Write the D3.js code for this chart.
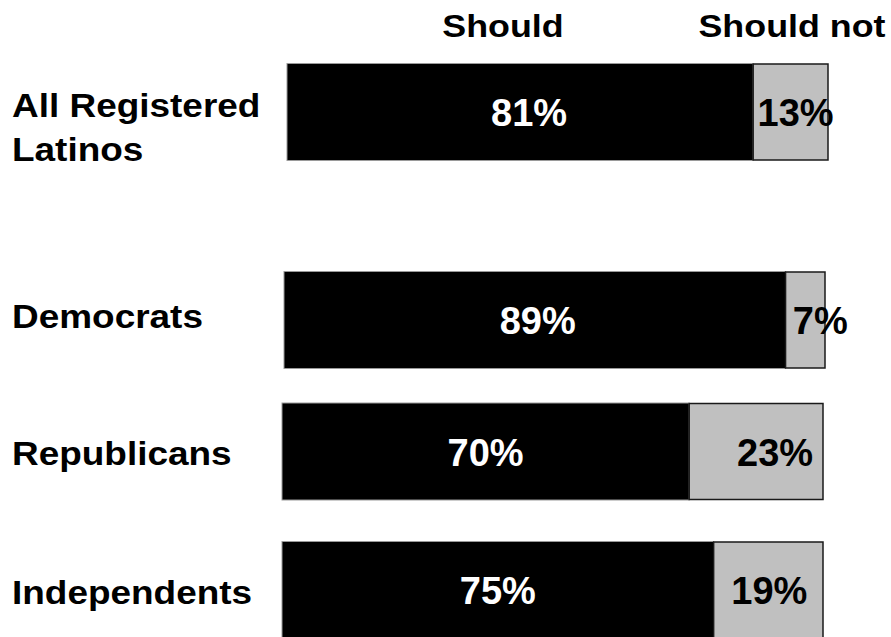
<!DOCTYPE html>
<html>
<head>
<meta charset="utf-8">
<script src="https://cdn.jsdelivr.net/npm/d3@7"></script>
<style>
  html, body { margin: 0; padding: 0; background: #fff; }
  svg { display: block; font-family: "Liberation Sans", Arial, Helvetica, sans-serif; font-weight: bold; }
</style>
</head>
<body>
<svg id="chart" width="891" height="637"></svg>
<script>
// ---- data ----
const categories = ["All Registered Latinos", "Democrats", "Republicans", "Independents"];
const categoryLines = [["All Registered", "Latinos"], ["Democrats"], ["Republicans"], ["Independents"]];
const seriesNames = ["Should", "Should not"];
const shouldValues = [81, 89, 70, 75];
const shouldNotValues = [13, 7, 23, 19];

// ---- layout ----
const svg = d3.select("#chart");
const barH = 97;
const barW = 541;
const rowCenters = [112, 320, 451.5, 590];
const rowLeft = [287, 284, 282, 282];
const blackLabelNudge = [9, 3, 0, 0];
const grayLabelNudge = [5, 15, 19, 1];
const labelNudge = [[5, 49], [-4], [2], [2]];
const stretch = 1.12;

const y = d3.scaleOrdinal().domain(categories).range(rowCenters);
const x = d3.scaleLinear().domain([0, 1]).range([0, barW]);

const rows = categories.map((c, i) => {
  const total = shouldValues[i] + shouldNotValues[i];
  return { cat: c, i, s: shouldValues[i], n: shouldNotValues[i], total };
});

// headers
const headerX = [503, 792];
seriesNames.forEach((name, k) => {
  svg.append("text")
    .attr("transform", `translate(${headerX[k]},37) scale(${stretch},1)`)
    .attr("text-anchor", "middle")
    .attr("font-size", 32)
    .attr("fill", "#000")
    .text(name);
});

const g = svg.selectAll("g.row").data(rows).join("g").attr("class", "row")
  .attr("transform", d => `translate(${rowLeft[d.i]},${y(d.cat) - barH / 2})`);

// Should (black)
g.append("rect")
  .attr("x", 0)
  .attr("y", 0)
  .attr("width", d => x(d.s / d.total))
  .attr("height", barH)
  .attr("fill", "#000")
  .attr("stroke", "#9a9a9a")
  .attr("stroke-width", 1);

// Should not (gray)
g.append("rect")
  .attr("x", d => x(d.s / d.total))
  .attr("y", 0.5)
  .attr("width", d => x(d.n / d.total))
  .attr("height", barH - 1)
  .attr("fill", "#c0c0c0")
  .attr("stroke", "#1a1a1a")
  .attr("stroke-width", 1.5);

// value labels
g.append("text")
  .attr("x", d => x(d.s / d.total) / 2 + blackLabelNudge[d.i])
  .attr("y", barH / 2 + 14)
  .attr("text-anchor", "middle")
  .attr("font-size", 38)
  .attr("fill", "#fff")
  .text(d => d.s + "%");

g.append("text")
  .attr("x", d => x(d.s / d.total) + x(d.n / d.total) / 2 + grayLabelNudge[d.i])
  .attr("y", barH / 2 + 14)
  .attr("text-anchor", "middle")
  .attr("font-size", 38)
  .attr("fill", "#000")
  .text(d => d.n + "%");

// category labels
rows.forEach(d => {
  categoryLines[d.i].forEach((line, j) => {
    const base = labelNudge[d.i][j];
    svg.append("text")
      .attr("transform", `translate(12,${y(d.cat) + base + (categoryLines[d.i].length === 1 ? 11.5 : 0)}) scale(${stretch},1)`)
      .attr("font-size", 33)
      .attr("fill", "#000")
      .text(line);
  });
});
</script>
</body>
</html>
